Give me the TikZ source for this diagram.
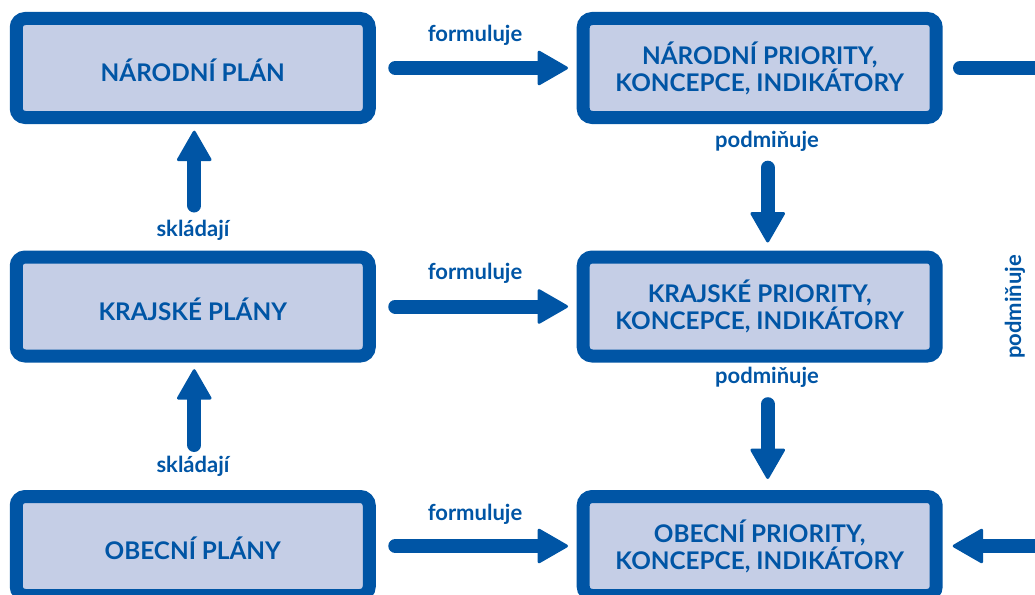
\documentclass[tikz,border=0pt]{standalone}
\usepackage{fontspec}
\setmainfont{Lato}
\usetikzlibrary{arrows.meta}
\definecolor{dblue}{RGB}{0,85,165}
\definecolor{lfill}{RGB}{197,206,230}
\tikzset{
  box/.style={draw=dblue, fill=lfill, line width=13pt, rounded corners=9pt,
    minimum width=353pt, minimum height=99pt, inner sep=0pt, align=center,
    text=dblue, font={\bfseries\fontsize{24.3}{27}\selectfont},
    execute at begin node={\rule{0pt}{28pt}}},
  lbl/.style={text=dblue, font={\bfseries\fontsize{22}{24}\selectfont}, inner sep=0pt},
  fat/.style={draw=dblue, line width=14pt, line cap=round},
  fatarrow/.style={fat, -{Triangle[length=32pt,width=36pt,line width=3pt,round]}}
}
\begin{document}
\begin{tikzpicture}[x=1pt,y=-1pt]
\useasboundingbox (0,0) rectangle (1035,594);
\clip (0,0) rectangle (1035,594);
% boxes
\node[box] (np) at (192.75,68) {NÁRODNÍ PLÁN};
\node[box] (kp) at (192.75,306.5) {KRAJSKÉ PLÁNY};
\node[box] (op) at (192.75,546) {OBECNÍ PLÁNY};
\node[box] (npr) at (759.7,68) {NÁRODNÍ PRIORITY,\\KONCEPCE, INDIKÁTORY};
\node[box] (kpr) at (759.7,306.5) {KRAJSKÉ PRIORITY,\\KONCEPCE, INDIKÁTORY};
\node[box] (opr) at (759.7,546) {OBECNÍ PRIORITY,\\KONCEPCE, INDIKÁTORY};
% formuluje arrows
\draw[fatarrow, shorten <=19.5pt, shorten >=8.7pt] (np.east) -- (npr.west);
\draw[fatarrow, shorten <=19.5pt, shorten >=8.7pt] (kp.east) -- (kpr.west);
\draw[fatarrow, shorten <=19.5pt, shorten >=8.7pt] (op.east) -- (opr.west);
\node[lbl] (f1) at (475,35) {formuluje};
\node[lbl] (f2) at (475,273) {formuluje};
\node[lbl] (f3) at (475,514) {formuluje};
% skladaji arrows
\draw[fatarrow, shorten <=45pt, shorten >=6.7pt] ([xshift=1.5pt]kp.north) -- ([xshift=1.5pt]np.south);
\draw[fatarrow, shorten <=45pt, shorten >=6.7pt] ([xshift=1.5pt]op.north) -- ([xshift=1.5pt]kp.south);
\node[lbl] (s1) at (193,230) {skládají};
\node[lbl] (s2) at (193,466) {skládají};
% podminuje arrows
\draw[fatarrow, shorten <=43.7pt, shorten >=8pt] ([xshift=8pt]npr.south) -- ([xshift=8pt]kpr.north);
\draw[fatarrow, shorten <=41.7pt, shorten >=11pt] ([xshift=8pt]kpr.south) -- ([xshift=8pt]opr.north);
\node[lbl] (p1) at (767,141.5) {podmiňuje};
\node[lbl] (p2) at (767,377.5) {podmiňuje};
% right side
\coordinate (r1) at (1060,68);
\coordinate (r3) at (1060,546);
\draw[fat, shorten <=17.3pt] (npr.east) -- (r1);
\draw[fatarrow, shorten >=10pt] (r3) -- (opr.east);
\node[lbl, rotate=90] (p3) at (1015,307) {podmiňuje};
\end{tikzpicture}
\end{document}
